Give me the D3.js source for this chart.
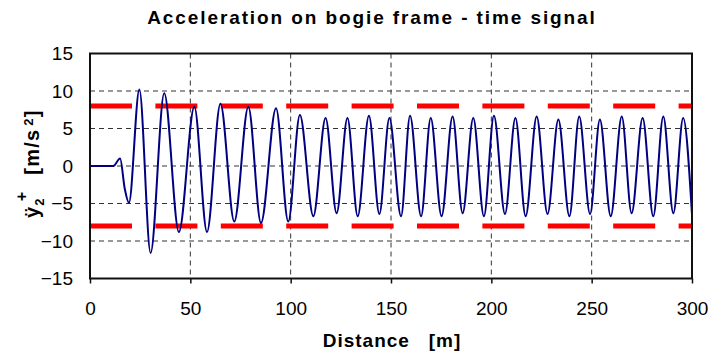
<!DOCTYPE html>
<html>
<head>
<meta charset="utf-8">
<script src="https://cdn.jsdelivr.net/npm/d3@7"></script>
<style>
  html, body { margin: 0; padding: 0; background: #fff; }
  svg { display: block; font-family: Arial, "Liberation Sans", sans-serif; }
</style>
</head>
<body>
<svg id="chart" width="710" height="352"></svg>
<script>
// Lateral acceleration of the bogie frame versus travelled distance
const distance = [0, 11.6, 15.0, 17.3, 19.4, 24.6, 30.2, 37.0, 44.3, 52.0, 58.3, 65.0, 71.9, 78.9, 85.2,
  92.7, 98.8, 104.6, 111.3, 117.4, 122.9, 128.3, 133.4, 139.0, 144.2, 149.2, 155.0, 159.5, 165.0,
  169.8, 175.2, 180.7, 185.7, 191.0, 196.3, 201.3, 206.8, 212.0, 217.1, 222.6, 228.0, 233.4, 238.9,
  243.8, 249.2, 254.1, 259.5, 265.0, 269.9, 275.4, 280.7, 285.7, 290.7, 295.6, 300];
const accel = [0, 0, 1.0, -3.0, -4.9, 10.2, -11.6, 9.7, -8.8, 7.9, -8.8, 8.3, -7.4, 7.9, -7.6,
  7.7, -7.4, 6.8, -6.7, 6.4, -6.3, 6.4, -6.7, 6.7, -6.4, 6.4, -6.7, 6.7, -6.7,
  6.4, -6.7, 6.6, -6.3, 6.4, -6.7, 6.7, -6.4, 6.4, -6.7, 6.6, -6.4, 6.2, -6.7,
  6.6, -6.4, 6.2, -6.7, 6.6, -6.3, 6.4, -6.7, 6.6, -6.3, 6.4, -6.5];

// Limit values (upper / lower) shown as red dashed lines
const limits = [8, -8];

const xTicks = [0, 50, 100, 150, 200, 250, 300];
const yTicks = [-15, -10, -5, 0, 5, 10, 15];

const svg = d3.select("#chart");
const x = d3.scaleLinear().domain([0, 300]).range([90, 692]);
const y = d3.scaleLinear().domain([-15, 15]).range([278.5, 53.5]);

// Title
svg.append("text")
  .attr("x", 372).attr("y", 24)
  .attr("text-anchor", "middle")
  .attr("font-size", 19).attr("font-weight", "bold")
  .attr("letter-spacing", 1.9)
  .text("Acceleration on bogie frame - time signal");

// Grid lines
const grid = svg.append("g").attr("stroke", "#333").attr("stroke-width", 1).attr("stroke-dasharray", "5,4");
grid.selectAll("line.h").data(yTicks.filter(d => d > -15 && d < 15)).join("line")
  .attr("class", "h")
  .attr("x1", x(0)).attr("x2", x(300))
  .attr("y1", d => y(d)).attr("y2", d => y(d));
grid.selectAll("line.v").data(xTicks.filter(d => d > 0 && d < 300)).join("line")
  .attr("class", "v")
  .attr("y1", y(15)).attr("y2", y(-15))
  .attr("x1", d => x(d)).attr("x2", d => x(d));

// Limit lines
svg.append("g").selectAll("line").data(limits).join("line")
  .attr("x1", x(0)).attr("x2", x(300))
  .attr("y1", d => y(d)).attr("y2", d => y(d))
  .attr("stroke", "#ff0000").attr("stroke-width", 5)
  .attr("stroke-dasharray", "42,23.4");

// Signal
const line = d3.line()
  .x((d, i) => x(distance[i]))
  .y(d => y(d))
  .curve(d3.curveMonotoneX);
svg.append("path")
  .datum(accel)
  .attr("d", line)
  .attr("fill", "none")
  .attr("stroke", "#000080")
  .attr("stroke-width", 2)
  .attr("stroke-linejoin", "round");

// Plot frame
svg.append("rect")
  .attr("x", x(0)).attr("y", y(15))
  .attr("width", x(300) - x(0)).attr("height", y(-15) - y(15))
  .attr("fill", "none").attr("stroke", "#111").attr("stroke-width", 2);

// X axis
const xAxis = d3.axisBottom(x).tickValues(xTicks).tickSize(5).tickPadding(18).tickFormat(d3.format("d"));
const gx = svg.append("g").attr("transform", `translate(0,${y(-15)})`).call(xAxis);
gx.select(".domain").remove();
gx.selectAll(".tick line").attr("stroke", "#111").attr("stroke-width", 1.5);
gx.selectAll("text").attr("font-size", 19).attr("fill", "#000").attr("font-family", "Arial, 'Liberation Sans', sans-serif");

// Y axis
const yAxis = d3.axisLeft(y).tickValues(yTicks).tickSize(0).tickPadding(17).tickFormat(d3.format("d"));
const gy = svg.append("g").attr("transform", `translate(${x(0)},0)`).call(yAxis);
gy.select(".domain").remove();
gy.selectAll("text").attr("font-size", 19).attr("fill", "#000").attr("font-family", "Arial, 'Liberation Sans', sans-serif");

// X axis title
svg.append("text")
  .attr("x", 392).attr("y", 347)
  .attr("text-anchor", "middle")
  .attr("font-size", 19).attr("font-weight", "bold")
  .attr("letter-spacing", 1)
  .attr("xml:space", "preserve")
  .text("Distance   [m]");

// Y axis title: ÿ₂⁺  [m/s²]
const yt = svg.append("text")
  .attr("transform", "translate(39,218) rotate(-90)")
  .attr("font-size", 20).attr("font-weight", "bold")
  .attr("letter-spacing", 1.2);
yt.append("tspan").text("ÿ");
yt.append("tspan").attr("font-size", 13).attr("dy", 5).text("2");
yt.append("tspan").attr("font-size", 16).attr("dx", -4).attr("dy", -17).text("+");
yt.append("tspan").attr("dx", 16).attr("dy", 12).text("[m/s");
yt.append("tspan").attr("font-size", 13).attr("dx", 3).attr("dy", -6).text("2");
yt.append("tspan").attr("dy", 6).text("]");
</script>
</body>
</html>
